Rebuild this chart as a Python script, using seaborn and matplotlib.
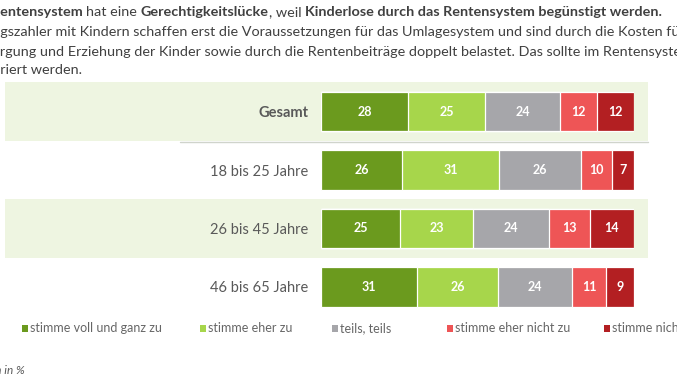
import matplotlib
matplotlib.use("Agg")
import matplotlib.pyplot as plt
import matplotlib.transforms as mtransforms
from matplotlib.patches import Rectangle
from matplotlib.lines import Line2D
import seaborn as sns
import pandas as pd
import numpy as np

# ---------------- data ----------------
groups = ["Gesamt", "18 bis 25 Jahre", "26 bis 45 Jahre", "46 bis 65 Jahre"]
answers = ["stimme voll und ganz zu", "stimme eher zu", "teils, teils",
           "stimme eher nicht zu", "stimme nicht zu"]
voll = [28, 26, 25, 31]
eher = [25, 31, 23, 26]
teils = [24, 26, 24, 24]
eher_nicht = [12, 10, 13, 11]
nicht = [12, 7, 14, 9]
colors = ["#6B9A1E", "#A7D64B", "#A6A6AA", "#EE5556", "#B31F22"]

title_lines = [
    [("Das Rentensystem", "bold", False), ("hat eine", "normal", True),
     ("Gerechtigkeitslücke", "bold", True), (", weil", "normal", False),
     ("Kinderlose durch das Rentensystem begünstigt werden.", "bold", True)],
    [("Beitragszahler mit Kindern schaffen erst die Voraussetzungen für das Umlagesystem und sind durch die Kosten für", "normal", False)],
    [("Versorgung und Erziehung der Kinder sowie durch die Rentenbeiträge doppelt belastet. Das sollte im Rentensystem", "normal", False)],
    [("honoriert werden.", "normal", False)],
]
hidden_prefix = [("Das R", "bold"), ("Beitra", "normal"), ("Verso", "normal"), ("hono", "normal")]
footer = "Angaben in %"

FONT = ["Lato", "DejaVu Sans"]
TXT = "#595959"
TITLE = "#404040"
BAND = "#EEF5E1"

sns.set_theme(style="white")
plt.rcParams["font.family"] = FONT

W, H = 677, 380
fig = plt.figure(figsize=(W / 100, H / 100), dpi=100)
fig.patch.set_facecolor("white")

# axes for the bars
x0, x1 = 321, 634
ytop, row = 82.25, 58.5
ax = fig.add_axes([x0 / W, 1 - (ytop + 4 * row) / H, (x1 - x0) / W, 4 * row / H])
ax.set_facecolor("none")

series = [voll, eher, teils, eher_nicht, nicht]
vals = np.array(series, dtype=float)  # shape (5, 4)
totals = vals.sum(axis=0)
shares = vals / totals
cums = np.cumsum(shares, axis=0)

# background bands (rows 0 and 2)
blend = mtransforms.blended_transform_factory(ax.transAxes, ax.transData)
bx0 = (5 - x0) / (x1 - x0)
bx1 = (648 - x0) / (x1 - x0)
for r in (0, 2):
    ax.add_patch(Rectangle((bx0, r - 0.5), bx1 - bx0, 1.0, transform=blend,
                           facecolor=BAND, edgecolor="none", zorder=0, clip_on=False))
lx0 = (180 - x0) / (x1 - x0)
ax.add_line(Line2D([lx0, bx1], [0.52, 0.52], transform=blend, color="#D0D4CC",
                   linewidth=1.0, zorder=0.5, clip_on=False))

# stacked bars: draw cumulative totals from largest to smallest
for i in range(len(series) - 1, -1, -1):
    df = pd.DataFrame({"group": groups, "cum": cums[i]})
    sns.barplot(data=df, x="cum", y="group", order=groups, orient="h",
                color=colors[i], saturation=1, width=0.667,
                edgecolor="white", linewidth=0.9, ax=ax, zorder=2)

# value labels
for i in range(len(series)):
    for j in range(len(groups)):
        c = cums[i, j] - shares[i, j] / 2
        ax.text(c, j, str(int(vals[i, j])), ha="center", va="center",
                color="white", fontsize=9, fontweight="bold", zorder=5)

ax.set_xlim(0, 1)
ax.set_ylim(3.5, -0.5)
ax.set_xlabel("")
ax.set_ylabel("")
ax.set_xticks([])
for s in ax.spines.values():
    s.set_visible(False)
ax.tick_params(axis="y", length=0, pad=9, labelsize=10.5, labelcolor=TXT)
for lab in ax.get_yticklabels():
    lab.set_fontfamily(FONT)
    if lab.get_text() == "Gesamt":
        lab.set_fontweight("bold")

# legend (manual)
leg_x = [22, 200, 332, 447, 604]
leg_y = 328
for k, name in enumerate(answers):
    fig.patches.append(Rectangle(((leg_x[k]) / W, 1 - (leg_y + 3.5) / H), 6 / W, 7 / H,
                                 transform=fig.transFigure, facecolor=colors[k],
                                 edgecolor="none"))
    fig.text((leg_x[k] + 8) / W, 1 - leg_y / H, name, ha="left", va="center",
             fontsize=9, color="#666666")

# title text with bold pieces, clipped at the figure edges like the reference
fig.canvas.draw()
rend = fig.canvas.get_renderer()


def tw(s, weight, size):
    t = fig.text(0, 0, s, fontsize=size, fontweight=weight)
    w = t.get_window_extent(rend).width
    t.remove()
    return w


def line_width(pieces, size):
    sp = tw("a a", "normal", size) - tw("aa", "normal", size)
    w = 0.0
    for txt, wt, space in pieces:
        if space:
            w += sp
        w += tw(txt, wt, size)
    return w


base = 10.0
vis = line_width(title_lines[0], base) - tw(hidden_prefix[0][0], hidden_prefix[0][1], base)
size = base * 661.0 / vis

baselines = [16.5, 36.5, 56.0, 74.0]
for li, pieces in enumerate(title_lines):
    sp = tw("a a", "normal", size) - tw("aa", "normal", size)
    x = -tw(hidden_prefix[li][0], hidden_prefix[li][1], size)
    for txt, wt, space in pieces:
        if space:
            x += sp
        fig.text(x / W, 1 - baselines[li] / H, txt, ha="left", va="baseline",
                 fontsize=size, fontweight=wt, color=TITLE)
        x += tw(txt, wt, size)

fig.text(25 / W, 1 - 371 / H, footer, ha="right", va="center", fontsize=8.5,
         style="italic", color=TXT)

fig.savefig("out.png", dpi=100, facecolor="white")
